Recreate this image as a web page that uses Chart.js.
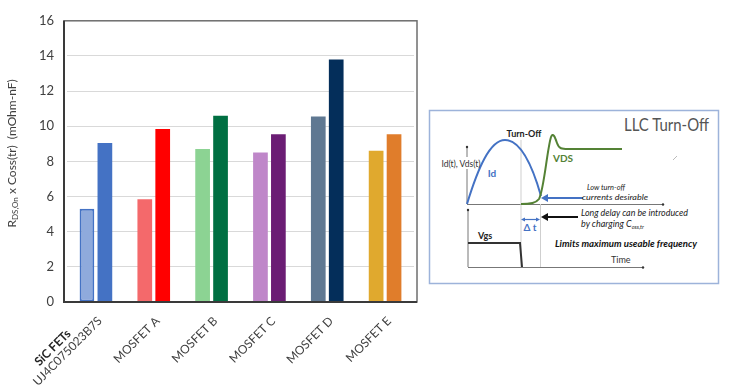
<!DOCTYPE html>
<html>
<head>
<meta charset="utf-8">
<script src="https://cdn.jsdelivr.net/npm/chart.js@4"></script>
<style>
  html, body { margin: 0; padding: 0; background: #fff; }
  #caixa { position: relative; width: 746px; height: 387px; }
  #grafico { position: absolute; left: 0; top: 0; }
  #detalhe { position: absolute; left: 0; top: 0; pointer-events: none; font-family: Lato, "Open Sans", sans-serif; }
</style>
</head>
<body>
<div id="caixa">
  <canvas id="grafico" width="746" height="387"></canvas>
  <!-- Quadro "LLC Turn-Off" (ilustração ao lado do gráfico) -->
  <svg id="detalhe" width="746" height="387" viewBox="0 0 746 387">
    <rect x="429.5" y="110.5" width="289" height="173" fill="#fff" stroke="#9DB3DA" stroke-width="1.5"/>
    <text x="624" y="131" font-size="17" fill="#555" textLength="85" lengthAdjust="spacingAndGlyphs">LLC Turn-Off</text>

    <!-- eixos superiores -->
    <line x1="467" y1="147" x2="467" y2="157" stroke="#777" stroke-width="1"/>
    <line x1="467" y1="169" x2="467" y2="204" stroke="#777" stroke-width="1"/>
    <circle cx="467" cy="147" r="1.2" fill="#333"/>
    <line x1="467" y1="204.5" x2="662" y2="204.5" stroke="#777" stroke-width="1"/>
    <circle cx="663" cy="204.5" r="1.2" fill="#333"/>

    <!-- linhas verticais de referência -->
    <line x1="521" y1="140" x2="521" y2="267" stroke="#cfcfcf" stroke-width="1"/>
    <line x1="540.5" y1="204" x2="540.5" y2="267" stroke="#cfcfcf" stroke-width="1"/>

    <!-- Id e VDS -->
    <path d="M467,204 C478,168 490,140 505,140 C521,140 533,168 541,196" fill="none" stroke="#4472C4" stroke-width="2"/>
    <path d="M521,204 C531,204 536,203 539,199 C544,190 547,150 551,137 C553,132 555,137 557,143 C559,149 562,149 568,149 L622,149" fill="none" stroke="#548235" stroke-width="2"/>

    <text x="524" y="137" font-size="9" font-weight="bold" fill="#222" text-anchor="middle">Turn-Off</text>
    <text x="461" y="166.5" font-size="8.5" fill="#333" text-anchor="middle">Id(t), Vds(t)</text>
    <text x="492" y="177" font-size="10" font-weight="bold" fill="#4472C4" text-anchor="middle">Id</text>
    <text x="563" y="162" font-size="10" font-weight="bold" fill="#548235" text-anchor="middle">VDS</text>

    <!-- setas -->
    <line x1="583" y1="198" x2="546" y2="198" stroke="#4472C4" stroke-width="2"/>
    <polygon points="541,198 548,194 548,202" fill="#4472C4"/>
    <line x1="578" y1="217" x2="546" y2="217" stroke="#111" stroke-width="2"/>
    <polygon points="541,217 548,213 548,221" fill="#111"/>
    <line x1="523" y1="219.5" x2="538" y2="219.5" stroke="#4472C4" stroke-width="1.2"/>
    <polygon points="521,219.5 525,217.5 525,221.5" fill="#4472C4"/>
    <polygon points="540,219.5 536,217.5 536,221.5" fill="#4472C4"/>
    <text x="530" y="231" font-size="10" font-weight="bold" fill="#4472C4" text-anchor="middle">Δ t</text>

    <text x="587" y="190" font-size="8.5" font-style="italic" fill="#222" textLength="38" lengthAdjust="spacingAndGlyphs">Low turn-off</text>
    <text x="582" y="200" font-size="8.5" font-style="italic" fill="#222" textLength="66" lengthAdjust="spacingAndGlyphs">currents desirable</text>
    <text x="581" y="216" font-size="9" font-style="italic" fill="#222" textLength="107" lengthAdjust="spacingAndGlyphs">Long delay can be introduced</text>
    <text x="581" y="227" font-size="9" font-style="italic" fill="#222">by charging C<tspan font-size="5.5" dy="1.5">oss,tr</tspan></text>

    <!-- eixos inferiores e Vgs -->
    <line x1="468" y1="210" x2="468" y2="267" stroke="#777" stroke-width="1"/>
    <circle cx="468" cy="210" r="1.2" fill="#333"/>
    <line x1="468" y1="267.5" x2="642" y2="267.5" stroke="#777" stroke-width="1"/>
    <circle cx="643" cy="267.5" r="1.2" fill="#333"/>
    <path d="M468,243 L520,243 L522,267" fill="none" stroke="#333" stroke-width="2"/>
    <text x="478" y="239" font-size="9" font-weight="bold" fill="#222">Vgs</text>
    <text x="555" y="247" font-size="9" font-weight="bold" font-style="italic" fill="#111" textLength="142" lengthAdjust="spacingAndGlyphs">Limits maximum useable frequency</text>
    <text x="611" y="263" font-size="9" fill="#333">Time</text>
    <line x1="673" y1="160" x2="677" y2="156" stroke="#bbb" stroke-width="1"/>
  </svg>
</div>

<script>
// Categorias (linhas do rótulo do eixo X)
const categoriaLinhas = [
    ["SiC FETs", "UJ4C075023B7S"],
    ["MOSFET A"],
    ["MOSFET B"],
    ["MOSFET C"],
    ["MOSFET D"],
    ["MOSFET E"]
];

// Valores (mOhm-nF)
const valoresClaros = [5.3, 5.85, 8.7, 8.5, 10.55, 8.6];
const valoresEscuros = [9.05, 9.85, 10.6, 9.55, 13.8, 9.55];

// Eixo Y
const yMinimo = 0;
const yMaximo = 16;
const yPasso = 2;

// Cores de cada barra
const coresClaras = ["#8FAADC", "#F4696B", "#8CD393", "#BF87C9", "#5F7892", "#E0A92E"];
const coresEscuras = ["#4472C4", "#FF0000", "#006F42", "#6B1D74", "#042E5A", "#E07D2B"];
const bordasClaras = ["#4472C4", "#F4696B", "#8CD393", "#BF87C9", "#5F7892", "#E0A92E"];

const fonteBase = "Lato, 'Open Sans', sans-serif";

// Plugin: moldura, rótulos rotacionados e título do eixo Y com subscrito
const molduraPlugin = {
    id: "moldura",
    afterDraw(chart) {
        const { ctx, chartArea: a, scales } = chart;
        const esq = a.left - 3, dir = a.right + 3;

        ctx.save();
        ctx.strokeStyle = "#6e6e6e";
        ctx.lineWidth = 1.5;
        ctx.strokeRect(esq, a.top, dir - esq, a.bottom - a.top);
        ctx.strokeStyle = "#3a3a3a";
        ctx.lineWidth = 2;
        ctx.beginPath();
        ctx.moveTo(esq, a.top);
        ctx.lineTo(esq, a.bottom);
        ctx.lineTo(dir, a.bottom);
        ctx.stroke();
        ctx.restore();

        // 1. Rótulos do eixo X a -45°
        categoriaLinhas.forEach((linhas, i) => {
            const x = scales.x.getPixelForTick(i);
            ctx.save();
            ctx.translate(x + 4, a.bottom + 17);
            ctx.rotate(-Math.PI / 4);
            ctx.fillStyle = "#404040";
            ctx.textBaseline = "middle";
            ctx.textAlign = "right";
            ctx.font = "12px " + fonteBase;
            const ultima = linhas[linhas.length - 1];
            ctx.fillText(ultima, 0, 0);
            if (linhas.length > 1) {
                const largura = ctx.measureText(ultima).width;
                ctx.font = "bold 12px " + fonteBase;
                ctx.textAlign = "center";
                ctx.fillStyle = "#222";
                ctx.fillText(linhas[0], -largura / 2 - 8, -13);
            }
            ctx.restore();
        });

        // 2. Título do eixo Y: R(DS,On) x Coss(tr)  (mOhm-nF)
        const partes = [
            { t: "R", f: "12px " + fonteBase, dy: 0 },
            { t: "DS,On", f: "8px " + fonteBase, dy: 3 },
            { t: " x Coss(tr)  (mOhm-nF)", f: "12px " + fonteBase, dy: 0 }
        ];
        let total = 0;
        partes.forEach(p => { ctx.font = p.f; p.w = ctx.measureText(p.t).width; total += p.w; });
        ctx.save();
        ctx.translate(12, (a.top + a.bottom) / 2 - 8);
        ctx.rotate(-Math.PI / 2);
        ctx.fillStyle = "#404040";
        ctx.textBaseline = "middle";
        ctx.textAlign = "left";
        let pos = -total / 2;
        partes.forEach(p => {
            ctx.font = p.f;
            ctx.fillText(p.t, pos, p.dy);
            pos += p.w;
        });
        ctx.restore();
    }
};

new Chart(document.getElementById("grafico"), {
    type: "bar",
    data: {
        labels: categoriaLinhas.map(l => l.join(" ")),
        datasets: [{
            data: valoresClaros,
            backgroundColor: coresClaras,
            borderColor: bordasClaras,
            borderWidth: [2, 0, 0, 0, 0, 0],
            borderSkipped: false,
            categoryPercentage: 0.62,
            barPercentage: 0.82
        }, {
            data: valoresEscuros,
            backgroundColor: coresEscuras,
            borderWidth: 0,
            categoryPercentage: 0.62,
            barPercentage: 0.82
        }]
    },
    options: {
        responsive: false,
        animation: false,
        layout: {
            padding: { left: 0, top: 12, right: 332, bottom: 85 }
        },
        plugins: {
            legend: { display: false },
            tooltip: { enabled: false }
        },
        scales: {
            x: {
                grid: { display: false },
                border: { display: false },
                ticks: { display: false },
                afterFit: function(scale) { scale.height = 0; }
            },
            y: {
                min: yMinimo,
                max: yMaximo,
                grid: { color: "#d9d9d9", lineWidth: 1, drawTicks: false },
                border: { display: false },
                ticks: {
                    stepSize: yPasso,
                    padding: 13,
                    color: "#404040",
                    font: { family: fonteBase, size: 13 }
                },
                afterFit: function(scale) { scale.width = 67; }
            }
        }
    },
    plugins: [molduraPlugin]
});
</script>
</body>
</html>
